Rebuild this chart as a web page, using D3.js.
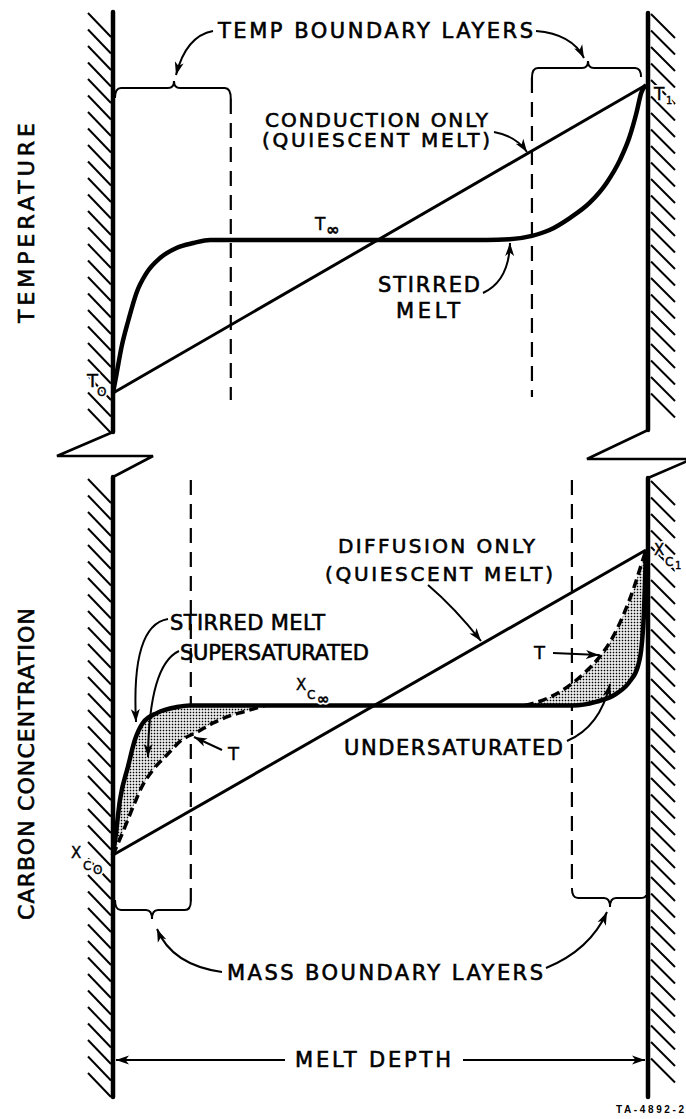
<!DOCTYPE html>
<html>
<head>
<meta charset="utf-8">
<script src="https://cdn.jsdelivr.net/npm/d3@7"></script>
<style>
  html, body { margin: 0; padding: 0; background: #fff; }
  svg { display: block; font-family: "DejaVu Sans", "Liberation Sans", sans-serif; }
</style>
</head>
<body>
<svg id="fig" width="686" height="1119"></svg>
<script>
// ---- profile data: depth runs 0 (cold wall) .. 1 (hot wall); values normalised to the wall values ----
const depthRange = [0, 1];
const tempLayerEdges = [0.221, 0.786];          // temperature boundary layer edges
const massLayerEdges = [0.146, 0.861];          // mass (carbon) boundary layer edges

const conductionProfile = [[0, 0], [1, 1]];     // quiescent melt, temperature
const tempInfinity = 0.497;
const stirredTempProfile = [
  [0, 0], [0.007, 0.065], [0.016, 0.149], [0.029, 0.237], [0.044, 0.325], [0.063, 0.390],
  [0.088, 0.438], [0.119, 0.471], [0.151, 0.487], [0.182, 0.497], [0.700, 0.497],
  [0.744, 0.499], [0.786, 0.510], [0.819, 0.529], [0.857, 0.568], [0.894, 0.617],
  [0.926, 0.682], [0.951, 0.756], [0.969, 0.831], [0.982, 0.909], [0.991, 0.974], [1, 1]
];

const diffusionProfile = [[0, 0], [1, 1]];      // quiescent melt, carbon
const concInfinity = 0.49;
const stirredConcProfile = [
  [0, 0], [0.004, 0.049], [0.013, 0.180], [0.028, 0.289], [0.041, 0.377], [0.056, 0.433],
  [0.083, 0.466], [0.120, 0.485], [0.144, 0.490], [0.863, 0.490], [0.906, 0.502],
  [0.944, 0.528], [0.970, 0.570], [0.985, 0.620], [0.992, 0.689], [0.996, 0.787],
  [0.998, 0.885], [1, 1]
];
// saturation concentration set by the local temperature (curve "T")
const saturationLeft = [
  [0, 0], [0.0225, 0.092], [0.0375, 0.157], [0.054, 0.223], [0.075, 0.279], [0.101, 0.328],
  [0.129, 0.377], [0.158, 0.403], [0.188, 0.433], [0.219, 0.456], [0.244, 0.469], [0.285, 0.490]
];
const saturationRight = [
  [0.773, 0.490], [0.807, 0.508], [0.844, 0.541], [0.882, 0.593], [0.914, 0.652],
  [0.938, 0.715], [0.959, 0.793], [0.977, 0.875], [0.991, 0.951], [1, 1]
];

// ---- scales ----
const x = d3.scaleLinear().domain(depthRange).range([113, 646]);
const yT = d3.scaleLinear().domain([0, 1]).range([393, 85]);
const yC = d3.scaleLinear().domain([0, 1]).range([855, 550]);

const svg = d3.select("#fig");
const defs = svg.append("defs");

const stip = defs.append("pattern").attr("id", "stipple")
  .attr("width", 3).attr("height", 3).attr("patternUnits", "userSpaceOnUse");
stip.append("rect").attr("width", 3).attr("height", 3).attr("fill", "#fff");
stip.append("rect").attr("x", 0.7).attr("y", 0.7).attr("width", 1.6).attr("height", 1.6).attr("fill", "#000");

defs.append("marker").attr("id", "head")
  .attr("markerUnits", "userSpaceOnUse")
  .attr("markerWidth", 14).attr("markerHeight", 10)
  .attr("refX", 13).attr("refY", 5).attr("orient", "auto")
  .append("path").attr("d", "M0,0.5 L13,5 L0,9.5 L3.5,5 Z").attr("fill", "#000");

const ink = "#000";
const wallL = x(0), wallR = x(1) + 2;

// ---- walls with hatching and break marks ----
const g = svg.append("g");
function hatch(xw, y0, y1, side) {
  const ys = d3.range(y0, y1, 16.5);
  g.selectAll(null).data(ys).enter().append("line")
    .attr("x1", side < 0 ? xw - 25 : xw + 3)
    .attr("y1", d => d)
    .attr("x2", side < 0 ? xw - 2 : xw + 27)
    .attr("y2", d => d + 24)
    .attr("stroke", ink).attr("stroke-width", 2);
}
hatch(wallL, 13, 410, -1);
hatch(wallL, 479, 1075, -1);
hatch(wallR, 14, 408, 1);
hatch(wallR, 481, 1074, 1);

const wallStyle = s => s.attr("fill", "none").attr("stroke", ink).attr("stroke-width", 4.5).attr("stroke-linecap", "round");
g.append("line").attr("x1", wallL).attr("x2", wallL).attr("y1", 12).attr("y2", 432).call(wallStyle);
g.append("line").attr("x1", wallL).attr("x2", wallL).attr("y1", 477).attr("y2", 1097).call(wallStyle);
g.append("line").attr("x1", wallR).attr("x2", wallR).attr("y1", 13).attr("y2", 430).call(wallStyle);
g.append("line").attr("x1", wallR).attr("x2", wallR).attr("y1", 478).attr("y2", 1097).call(wallStyle);
g.append("path").attr("d", `M${wallL},432 L57,456 L153,456 L${wallL},477`)
  .attr("fill", "none").attr("stroke", ink).attr("stroke-width", 2.6).attr("stroke-linejoin", "miter");
g.append("path").attr("d", `M${wallR},430 L587,459 L692,459 L${wallR},478`)
  .attr("fill", "none").attr("stroke", ink).attr("stroke-width", 2.6).attr("stroke-linejoin", "miter");

// ---- boundary layer edges (dashed) ----
const edgeStyle = s => s.attr("stroke", ink).attr("stroke-width", 2.2).attr("stroke-dasharray", "15,9");
g.append("line").attr("x1", x(tempLayerEdges[0])).attr("x2", x(tempLayerEdges[0])).attr("y1", 99).attr("y2", 400).call(edgeStyle);
g.append("line").attr("x1", x(tempLayerEdges[1])).attr("x2", x(tempLayerEdges[1])).attr("y1", 78).attr("y2", 397).call(edgeStyle);
g.append("line").attr("x1", x(massLayerEdges[0])).attr("x2", x(massLayerEdges[0])).attr("y1", 480).attr("y2", 901).call(edgeStyle);
g.append("line").attr("x1", x(massLayerEdges[1])).attr("x2", x(massLayerEdges[1])).attr("y1", 480).attr("y2", 888).call(edgeStyle);

// curly braces marking each layer
function brace(x1, x2, y, xm, dir, e1, e2, t) {
  const r = 6;
  return `M${x1},${y + dir * e1} Q${x1},${y} ${x1 + r},${y} L${xm - r},${y} Q${xm},${y} ${xm},${y - dir * t}` +
         ` Q${xm},${y} ${xm + r},${y} L${x2 - r},${y} Q${x2},${y} ${x2},${y + dir * e2}`;
}
const braceStyle = s => s.attr("fill", "none").attr("stroke", ink).attr("stroke-width", 2);
g.append("path").attr("d", brace(wallL + 2, x(tempLayerEdges[0]), 88, 174, 1, 10, 11, 7)).call(braceStyle);
g.append("path").attr("d", brace(x(tempLayerEdges[1]), 641, 68, 588, 1, 10, 9, 7)).call(braceStyle);
g.append("path").attr("d", brace(wallL + 2, x(massLayerEdges[0]), 910, 152, -1, 10, 9, 9)).call(braceStyle);
g.append("path").attr("d", brace(x(massLayerEdges[1]), wallR - 2, 898, 610, -1, 10, 3, 9)).call(braceStyle);

// ---- temperature panel ----
const lineT = d3.line().x(d => x(d[0])).y(d => yT(d[1])).curve(d3.curveMonotoneX);
const lineC = d3.line().x(d => x(d[0])).y(d => yC(d[1])).curve(d3.curveMonotoneX);

g.append("path").attr("d", lineT(conductionProfile))
  .attr("fill", "none").attr("stroke", ink).attr("stroke-width", 3);
g.append("path").attr("d", lineT(stirredTempProfile))
  .attr("fill", "none").attr("stroke", ink).attr("stroke-width", 4.5).attr("stroke-linejoin", "round");

// ---- carbon panel: super/under-saturated bands ----
const leftEnd = saturationLeft[saturationLeft.length - 1][0];
const rightStart = saturationRight[0][0];
const superPath = lineC(stirredConcProfile.filter(d => d[0] <= leftEnd)) +
  lineC(saturationLeft.slice().reverse()).replace(/^M/, "L") + "Z";
const underPath = lineC(saturationRight) +
  lineC(stirredConcProfile.filter(d => d[0] >= rightStart).reverse()).replace(/^M/, "L") + "Z";
g.append("path").attr("d", superPath).attr("fill", "url(#stipple)");
g.append("path").attr("d", underPath).attr("fill", "url(#stipple)");

g.append("path").attr("d", lineC(diffusionProfile))
  .attr("fill", "none").attr("stroke", ink).attr("stroke-width", 3);
[saturationLeft, saturationRight].forEach(p => {
  g.append("path").attr("d", lineC(p))
    .attr("fill", "none").attr("stroke", ink).attr("stroke-width", 3.5).attr("stroke-dasharray", "9,5");
});
g.append("path").attr("d", lineC(stirredConcProfile))
  .attr("fill", "none").attr("stroke", ink).attr("stroke-width", 4.5).attr("stroke-linejoin", "round");

// ---- leader arrows ----
const arrows = [
  "M213,31 Q186,36 176,75",
  "M536,31 Q572,34 584,58",
  "M494,132 Q516,136 527,152",
  "M483,293 Q509,281 510,243",
  "M428,585 Q455,608 481,641",
  "M168,619 Q131,625 136,722",
  "M179,651 Q149,665 148,757",
  "M222,750 L194,737",
  "M553,653 L599,655",
  "M567,741 Q600,727 610,684",
  "M222,972 Q172,965 157,929",
  "M546,968 Q590,950 607,912",
  "M285,1060 L116,1060",
  "M463,1060 L645,1060"
];
g.selectAll(null).data(arrows).enter().append("path")
  .attr("d", d => d).attr("fill", "none").attr("stroke", ink).attr("stroke-width", 2)
  .attr("marker-end", "url(#head)");

// ---- lettering ----
function label(txt, x0, x1, base, size) {
  return g.append("text").text(txt)
    .attr("x", x0).attr("y", base)
    .attr("font-size", size)
    .attr("textLength", x1 - x0).attr("lengthAdjust", "spacing")
    .attr("fill", ink).attr("stroke", ink).attr("stroke-width", 0.6);
}
label("TEMP BOUNDARY LAYERS", 218, 533, 38, 21);
label("CONDUCTION ONLY", 265, 488, 127, 20);
label("(QUIESCENT MELT)", 262, 490, 147, 20);
label("STIRRED", 378, 480, 292, 21);
label("MELT", 396, 460, 318, 21);
label("DIFFUSION ONLY", 338, 535, 553, 20);
label("(QUIESCENT MELT)", 325, 553, 581, 20);
label("STIRRED MELT", 170, 325, 630, 21);
label("SUPERSATURATED", 180, 369, 660, 21);
label("UNDERSATURATED", 344, 563, 755, 21);
label("MASS BOUNDARY LAYERS", 227, 543, 980, 21);
label("MELT DEPTH", 295, 451, 1067, 21);

g.append("text").text("TA-4892-2")
  .attr("x", 616).attr("y", 1113).attr("font-size", 10).attr("font-weight", "bold")
  .attr("font-family", "'Liberation Sans', Arial, sans-serif")
  .attr("textLength", 68).attr("lengthAdjust", "spacing").attr("fill", ink);

function axisTitle(txt, cx, cy, len) {
  g.append("text").text(txt)
    .attr("transform", `translate(${cx},${cy}) rotate(-90)`)
    .attr("x", -len / 2).attr("y", 0)
    .attr("font-size", 22)
    .attr("textLength", len).attr("lengthAdjust", "spacing")
    .attr("fill", ink).attr("stroke", ink).attr("stroke-width", 0.6);
}
axisTitle("TEMPERATURE", 34, 223, 200);
axisTitle("CARBON CONCENTRATION", 34, 764, 312);

// symbols with subscripts; a white halo layer keeps them clear of the hatching
function symbol(parts) {
  const halo = g.append("text").attr("fill", "#fff")
    .attr("stroke", "#fff").attr("stroke-width", 4).attr("stroke-linejoin", "round");
  const t = g.append("text").attr("fill", ink).attr("stroke", ink).attr("stroke-width", 0.4);
  [halo, t].forEach(el => parts.forEach(p => {
    el.append("tspan").text(p.t).attr("x", p.x).attr("y", p.y)
      .attr("font-size", p.s).attr("font-weight", p.b ? "bold" : "normal");
  }));
}
symbol([{t: "T", x: 87, y: 387, s: 18}, {t: "O", x: 97, y: 396, s: 12}]);
symbol([{t: "T", x: 654, y: 100, s: 17}, {t: "1", x: 666, y: 104, s: 10}]);
symbol([{t: "T", x: 315, y: 230, s: 17}, {t: "\u221E", x: 326, y: 235, s: 16, b: true}]);
symbol([{t: "X", x: 71, y: 858, s: 15}, {t: "C", x: 83, y: 870, s: 12}, {t: "O", x: 93, y: 874, s: 12}]);
symbol([{t: "X", x: 654, y: 555, s: 15}, {t: "C", x: 665, y: 566, s: 12}, {t: "1", x: 675, y: 569, s: 10}]);
symbol([{t: "X", x: 296, y: 690, s: 15}, {t: "C", x: 307, y: 699, s: 12}, {t: "\u221E", x: 317, y: 704, s: 15, b: true}]);
symbol([{t: "T", x: 228, y: 760, s: 18}]);
symbol([{t: "T", x: 534, y: 659, s: 18}]);
</script>
</body>
</html>
